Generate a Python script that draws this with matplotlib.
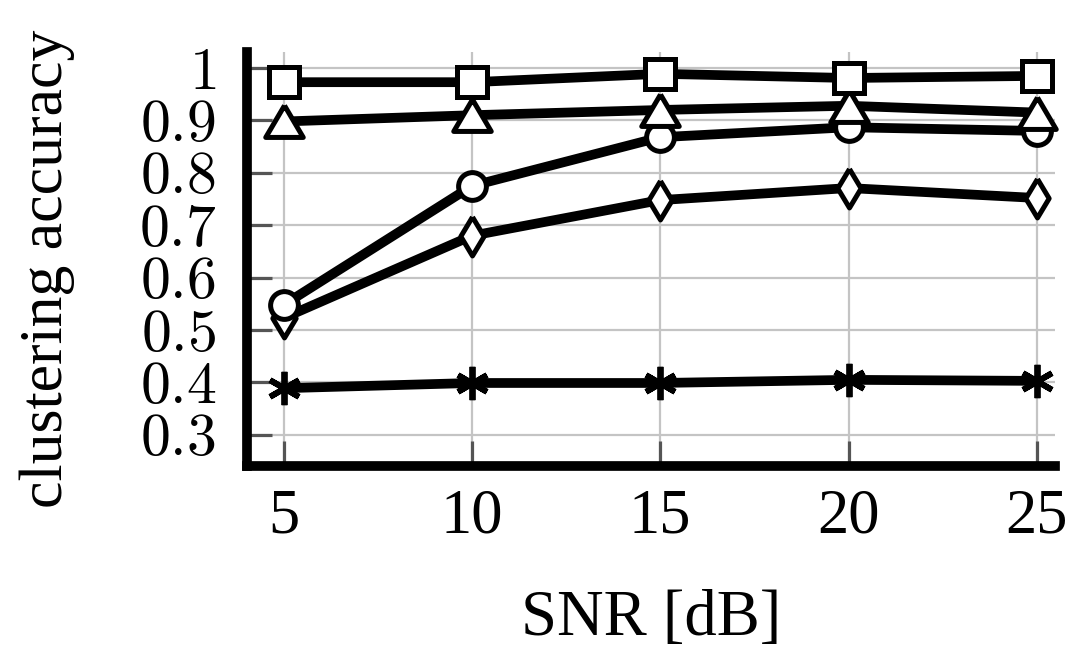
import matplotlib
matplotlib.use('Agg')
import matplotlib.pyplot as plt

# values
snr = [5, 10, 15, 20, 25]
acc_square = [0.973, 0.973, 0.989, 0.981, 0.985]
acc_triangle = [0.898, 0.910, 0.920, 0.928, 0.915]
acc_circle = [0.548, 0.775, 0.868, 0.887, 0.880]
acc_diamond = [0.523, 0.680, 0.748, 0.771, 0.752]
acc_star = [0.389, 0.399, 0.399, 0.405, 0.403]

yticks = [0.3, 0.4, 0.5, 0.6, 0.7, 0.8, 0.9, 1.0]
ytick_labels = ['$0.3$', '$0.4$', '$0.5$', '$0.6$', '$0.7$', '$0.8$', '$0.9$', '$1$']

plt.rcParams['font.family'] = ['Liberation Serif', 'DejaVu Serif']
plt.rcParams['mathtext.fontset'] = 'cm'

# closed outlines for the pgfplots-like triangle and diamond
tri = [(0, 0.85), (-1, -0.85), (1, -0.85), (0, 0.85)]
dia = [(0, 1), (0.6, 0), (0, -1), (-0.6, 0), (0, 1)]

fig = plt.figure(figsize=(10.82, 6.54), dpi=100)
ax = fig.add_axes([0.228, 0.287, 0.747, 0.633])

lw = 7
mew = 3.6
common = dict(color='black', lw=lw, mfc='white', mec='black', mew=mew, clip_on=False)
ax.plot(snr, acc_star, marker=(6, 2, 0), ms=24, **{**common, 'mew': 4.2})
ax.plot(snr, acc_diamond, marker=dia, ms=28, **common)
ax.plot(snr, acc_circle, marker='o', ms=20, **common)
ax.plot(snr, acc_triangle, marker=tri, ms=27, **common)
ax.plot(snr, acc_square, marker='s', ms=22, **common)

ax.set_xlim(4.02, 25.48)
ax.set_ylim(0.24, 1.03)
ax.set_xticks(snr)
ax.set_yticks(yticks)
ax.set_yticklabels(ytick_labels)

ax.grid(True, color='#c4c4c4', lw=1.6)
ax.set_axisbelow(True)

ax.tick_params(axis='both', direction='in', length=18, width=2.3, color='#555555',
               top=False, right=False)
ax.tick_params(axis='y', labelsize=43, pad=22)
ax.tick_params(axis='x', labelsize=45, pad=16)

for s in ['top', 'right']:
    ax.spines[s].set_visible(False)
for s in ['left', 'bottom']:
    ax.spines[s].set_linewidth(7)
    ax.spines[s].set_color('black')
    ax.spines[s].set_capstyle('projecting')

ax.set_xlabel('SNR [dB]', fontsize=46.5, labelpad=31)
ax.set_ylabel('clustering accuracy', fontsize=44.5)
ax.yaxis.set_label_coords(-0.213, 0.478)

fig.savefig('out.png', dpi=100)
